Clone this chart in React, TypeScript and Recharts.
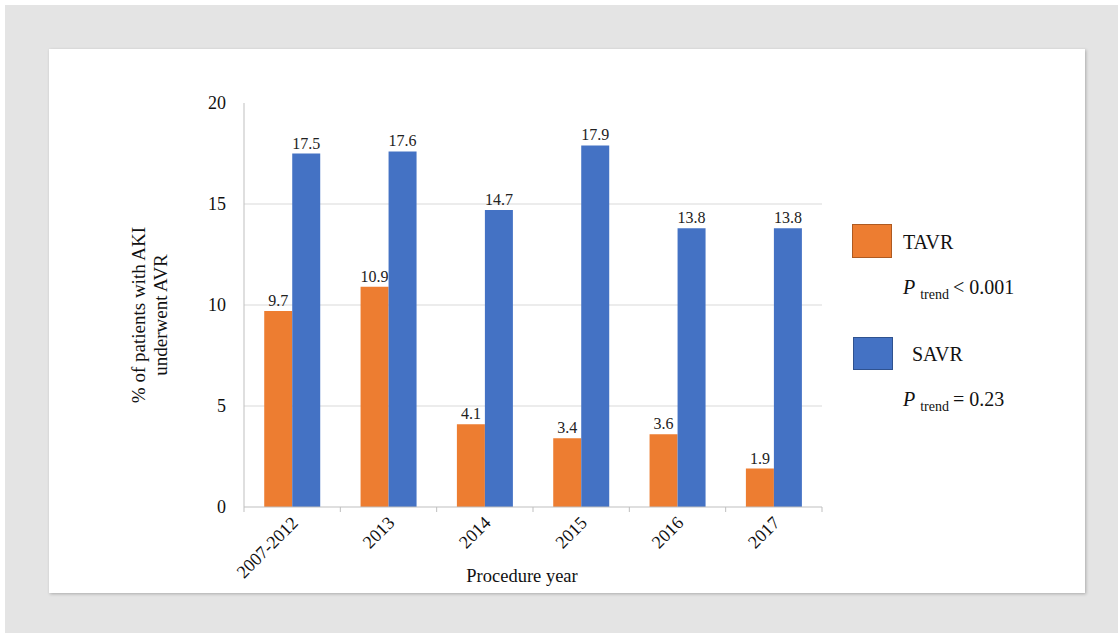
import React from 'react';
import { BarChart, Bar, XAxis, YAxis, CartesianGrid, LabelList } from 'recharts';

// AKI rate by procedure year, TAVR vs SAVR
const years = ['2007-2012', '2013', '2014', '2015', '2016', '2017'];
const tavr = [9.7, 10.9, 4.1, 3.4, 3.6, 1.9];
const savr = [17.5, 17.6, 14.7, 17.9, 13.8, 13.8];
const yTicks = [0, 5, 10, 15, 20];

const data = years.map((year, i) => ({ year, tavr: tavr[i], savr: savr[i] }));

const FONT = "'Liberation Serif', 'Times New Roman', serif";
const ORANGE = '#ED7D31';
const BLUE = '#4472C4';
const AXIS = '#bfbfbf';
const INK = '#111';

const W = 1118;
const H = 633;
const PLOT = { left: 244, right: 822, top: 103, bottom: 507 };
const Y_AXIS_W = 60;
const X_AXIS_H = 70;
const BAND = (PLOT.right - PLOT.left) / years.length;

const serif = (size: number): React.CSSProperties => ({ fontFamily: FONT, fontSize: size });

// rotated category label plus the tick marks sitting on band edges
const YearTick = ({ x, y, payload, index }: any) => (
  <g>
    <line x1={x - BAND / 2} x2={x - BAND / 2} y1={y} y2={y + 5} stroke={AXIS} />
    {index === years.length - 1 && (
      <line x1={x + BAND / 2} x2={x + BAND / 2} y1={y} y2={y + 5} stroke={AXIS} />
    )}
    <text
      x={x + 7}
      y={y + 17}
      textAnchor="end"
      transform={`rotate(-45 ${x + 7} ${y + 17})`}
      style={serif(18)}
      fill={INK}
    >
      {payload.value}
    </text>
  </g>
);

const ValueTick = ({ x, y, payload }: any) => (
  <text x={x} y={y} dy={6} textAnchor="end" style={serif(18)} fill={INK}>
    {payload.value}
  </text>
);

const legendText: React.CSSProperties = {
  position: 'absolute',
  fontFamily: FONT,
  fontSize: 20,
  color: INK,
  whiteSpace: 'nowrap',
  lineHeight: 1,
};

const Trend = ({ top, text }: { top: number; text: string }) => (
  <div style={{ ...legendText, left: 903, top }}>
    <i>P</i>
    <span style={{ fontSize: 14, position: 'relative', top: 5, margin: '0 4px 0 5px' }}>trend</span>
    {text}
  </div>
);

export default function App() {
  return (
    <div style={{ position: 'absolute', left: 0, top: 0, width: W, height: H, background: '#fff' }}>
      <div style={{ position: 'absolute', left: 5, top: 5, right: 0, bottom: 0, background: '#e4e4e4' }} />
      <div
        style={{
          position: 'absolute',
          left: 49,
          top: 49,
          width: 1036,
          height: 544,
          background: '#fff',
          boxShadow: '1px 1px 3px rgba(0,0,0,0.25)',
        }}
      />

      <div style={{ position: 'absolute', left: 0, top: 0, fontFamily: FONT }}>
        <BarChart
          width={W}
          height={H}
          data={data}
          barCategoryGap="21%"
          barGap={0}
          style={{ fontFamily: FONT }}
          margin={{
            top: PLOT.top,
            right: W - PLOT.right,
            bottom: H - PLOT.bottom - X_AXIS_H,
            left: PLOT.left - Y_AXIS_W,
          }}
        >
          <CartesianGrid vertical={false} stroke="#d9d9d9" horizontalValues={[5, 10, 15]} />
          <XAxis
            dataKey="year"
            height={X_AXIS_H}
            axisLine={{ stroke: AXIS }}
            tickLine={false}
            tickSize={0}
            tickMargin={0}
            interval={0}
            tick={<YearTick />}
          />
          <YAxis
            width={Y_AXIS_W}
            domain={[0, 20]}
            ticks={yTicks}
            axisLine={{ stroke: AXIS }}
            tickLine={false}
            tickSize={0}
            tickMargin={18}
            tick={<ValueTick />}
          />
          <Bar dataKey="tavr" fill={ORANGE} isAnimationActive={false}>
            <LabelList dataKey="tavr" position="top" offset={5} style={serif(16)} fill="#222" />
          </Bar>
          <Bar dataKey="savr" fill={BLUE} isAnimationActive={false}>
            <LabelList dataKey="savr" position="top" offset={5} style={serif(16)} fill="#222" />
          </Bar>
          {/* axis titles */}
          <text x={522} y={582} textAnchor="middle" style={serif(18.5)} fill={INK}>
            Procedure year
          </text>
          <text transform="translate(145 315) rotate(-90)" textAnchor="middle" style={serif(19)} fill={INK}>
            <tspan x={0} y={0}>% of patients with AKI</tspan>
            <tspan x={0} y={22}>underwent AVR</tspan>
          </text>
        </BarChart>
      </div>

      {/* legend with trend p-values */}
      <div style={{ position: 'absolute', left: 852, top: 224, width: 38, height: 32, background: ORANGE, border: '1px solid #ae5a21' }} />
      <div style={{ ...legendText, left: 903, top: 232 }}>TAVR</div>
      <Trend top={277} text="< 0.001" />
      <div style={{ position: 'absolute', left: 853, top: 337, width: 38, height: 31, background: BLUE, border: '1px solid #2f528f' }} />
      <div style={{ ...legendText, left: 912, top: 344 }}>SAVR</div>
      <Trend top={389} text="= 0.23" />
    </div>
  );
}
